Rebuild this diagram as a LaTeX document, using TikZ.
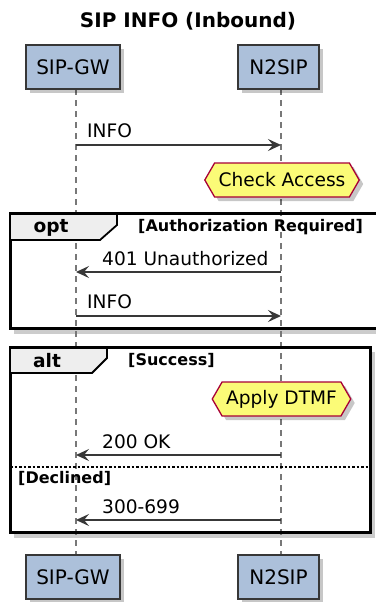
\documentclass[tikz,border=0pt]{standalone}
\usepackage{fontspec}
\setmainfont{DejaVu Sans}
\usetikzlibrary{arrows.meta,shapes.misc,shapes.symbols,shadows,calc}
\definecolor{partfill}{RGB}{172,192,218}
\definecolor{partdraw}{RGB}{55,55,55}
\definecolor{notefill}{RGB}{251,251,119}
\definecolor{notedraw}{RGB}{168,0,54}
\definecolor{lifeline}{RGB}{120,120,120}
\definecolor{arrowc}{RGB}{56,56,56}
\definecolor{tabfill}{RGB}{238,238,238}
\tikzset{
  part/.style={draw=partdraw, fill=partfill, line width=1.7pt, minimum height=44pt,
    inner sep=0pt, font=\fontsize{20}{22}\selectfont,
    drop shadow={shadow xshift=4pt, shadow yshift=-4pt, fill=black, opacity=0.22}},
  life/.style={draw=lifeline, line width=2.3pt, dash pattern=on 6pt off 5pt},
  msg/.style={draw=arrowc, line width=1.6pt, -{Stealth[length=13pt,width=12pt,inset=5pt]}},
  msgtxt/.style={font=\fontsize{18.6}{20}\selectfont, anchor=base west, inner sep=0pt},
  hexa/.style={draw=notedraw, fill=notefill, line width=1.3pt, signal, signal to=east and west,
    signal pointer angle=120, minimum height=34pt, inner xsep=4pt, inner ysep=0pt,
    font=\fontsize{18.6}{20}\selectfont,
    drop shadow={shadow xshift=4pt, shadow yshift=-4pt, fill=black, opacity=0.22}},
  frm/.style={draw=black, line width=3pt},
  frmshadow/.style={fill=black, opacity=0.2},
  grp/.style={font=\bfseries\fontsize{16}{18}\selectfont, inner sep=0pt},
  grpkind/.style={font=\bfseries\fontsize{18.6}{20}\selectfont, inner sep=0pt},
}
\begin{document}
\begin{tikzpicture}[x=1pt,y=-1pt]
\useasboundingbox (0,0) rectangle (375,602);
\fill[white] (0,0) rectangle (375,602);
% title
\node[font=\bfseries\fontsize{20}{22}\selectfont, inner sep=0pt] (title) at (188,21) {SIP INFO (Inbound)};
% lifelines
\coordinate (gwtop) at (76,89);
\coordinate (gwbot) at (76,555);
\coordinate (ntop) at (281,89);
\coordinate (nbot) at (281,555);
% frame shadows and frames
\fill[frmshadow] (14,218) rectangle (384,334);
\fill[white] (10,213) rectangle (380,328);
\fill[frmshadow] (14,352) rectangle (375,538);
\fill[white] (10,347) rectangle (370,532);
\draw[life] (gwtop) -- (gwbot);
\draw[life] (ntop) -- (nbot);
% opt frame
\draw[frm] (10,213) rectangle (380,328);
\filldraw[fill=tabfill, draw=black, line width=1.8pt] (10,213) -- (117,213) -- (117,225) -- (100,240) -- (10,240) -- cycle;
\draw[frm] (10,213) -- (380,213);
\node[grpkind] (optl) at (51,228) {opt};
\node[grp, anchor=west] (optc) at (138,227) {[Authorization Required]};
% alt frame
\draw[frm] (10,347) rectangle (370,532);
\filldraw[fill=tabfill, draw=black, line width=1.8pt] (10,347) -- (107,347) -- (107,358) -- (92,373) -- (10,373) -- cycle;
\draw[frm] (10,347) -- (370,347);
\node[grpkind] (altl) at (47,361) {alt};
\node[grp, anchor=west] (altc) at (128,360) {[Success]};
\draw[black, line width=1.1pt, dash pattern=on 2.5pt off 2pt] (10,467) -- (370,467);
\node[grp, anchor=west] (decl) at (18,478) {[Declined]};
% participants
\node[part, minimum width=94pt] (gw1) at (73,67) {SIP-GW};
\node[part, minimum width=81pt] (n1) at (278.5,67) {N2SIP};
\node[part, minimum width=94pt] (gw2) at (73,577) {SIP-GW};
\node[part, minimum width=81pt] (n2) at (278.5,577) {N2SIP};
% messages
\coordinate (a1s) at (76,145); \coordinate (a1e) at (281,145);
\draw[msg] (a1s) -- (a1e);
\node[msgtxt] (t1) at (87,137) {INFO};
\node[hexa] (chk) at (282,180) {Check Access};
\coordinate (a2s) at (281,272); \coordinate (a2e) at (76,272);
\draw[msg] (a2s) -- (a2e);
\node[msgtxt] (t2) at (102,265) {401 Unauthorized};
\coordinate (a3s) at (76,316); \coordinate (a3e) at (281,316);
\draw[msg] (a3s) -- (a3e);
\node[msgtxt] (t3) at (87,308) {INFO};
\node[hexa] (dtmf) at (281.5,399) {Apply DTMF};
\coordinate (a4s) at (281,455); \coordinate (a4e) at (76,455);
\draw[msg] (a4s) -- (a4e);
\node[msgtxt] (t4) at (102,448) {200 OK};
\coordinate (a5s) at (281,520); \coordinate (a5e) at (76,520);
\draw[msg] (a5s) -- (a5e);
\node[msgtxt] (t5) at (102,513) {300-699};
\end{tikzpicture}
\end{document}
